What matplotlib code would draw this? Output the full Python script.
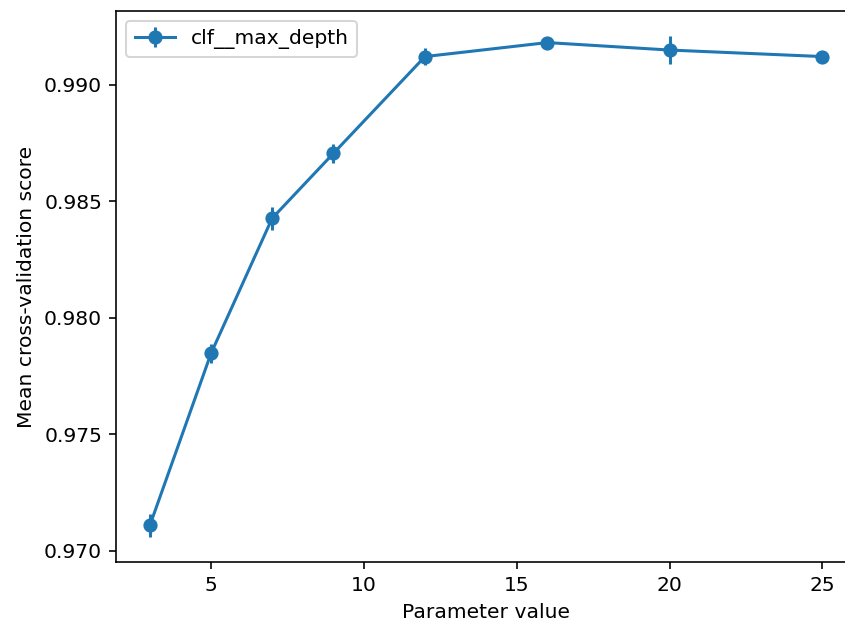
import matplotlib
matplotlib.use("Agg")
import matplotlib.pyplot as plt

# grid search results for clf__max_depth
param_values = [3, 5, 7, 9, 12, 16, 20, 25]
mean_scores = [0.9711, 0.97848, 0.98428, 0.98706, 0.99122, 0.99182, 0.99150, 0.99122]
std_scores = [0.0005, 0.0004, 0.0005, 0.0004, 0.00035, 0.0002, 0.0006, 0.0002]
series_label = "clf__max_depth"

DPI = 146
fig = plt.figure(figsize=(845 / DPI, 626 / DPI), dpi=DPI)
# axes runs slightly past the right edge, as in the cropped original
ax = fig.add_axes([0.1376, 0.1022, 0.8754, 0.8802])

ax.errorbar(param_values, mean_scores, yerr=std_scores, marker='o', label=series_label)
ax.set_xlabel('Parameter value')
ax.set_ylabel('Mean cross-validation score')
ax.legend(loc='upper left')

fig.savefig('out.png', dpi=DPI)
plt.close(fig)
